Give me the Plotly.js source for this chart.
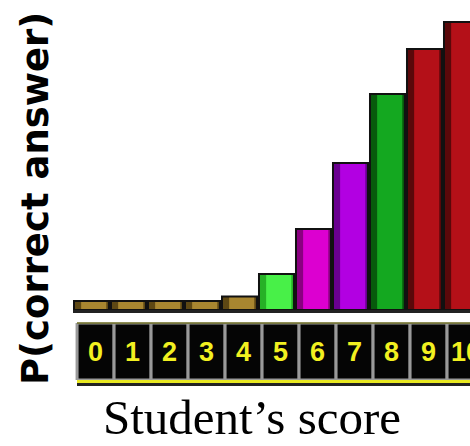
<!DOCTYPE html>
<html>
<head>
<meta charset="utf-8">
<script src="https://cdn.plot.ly/plotly-3.0.1.min.js"></script>
<style>
html,body{margin:0;padding:0;background:#fff;}
#chart{width:470px;height:446px;}
</style>
</head>
<body>
<div id="chart"></div>
<script>
// Data
const scores = ["0","1","2","3","4","5","6","7","8","9","10"];
const pCorrect = [0.03, 0.03, 0.03, 0.03, 0.045, 0.12, 0.27, 0.49, 0.72, 0.87, 0.96];
const edgeColors = ["#5e4814","#5e4814","#5e4814","#5e4814","#5e4814",
                    "#26b026","#8a0080","#6a0090","#075a0c","#5a080a","#5a080a"];
const faceColors = ["#a88630","#a88630","#a88630","#a88630","#a88630",
                    "#48f048","#dc00d0","#b200e2","#14a820","#b41018","#b41018"];
const stripHeights = scores.map(() => 1);
const xTitle = "Student\u2019s score";
const yTitle = "P(correct answer)";

const W = 470, H = 446;
const L = 73, T = 10, B = 60;
const plotH = H - T - B;
const yp = px => (H - B - px) / plotH;
const xp = px => (px - L) / (W - L);
const BW = 0.946;

const traces = [
  { // shaded body (dark edges)
    type: "bar", x: scores, y: pCorrect, xaxis: "x", yaxis: "y", width: BW,
    marker: {color: edgeColors, line: {width: 0}}, hoverinfo: "skip", showlegend: false
  },
  { // bright face
    type: "bar", x: scores, y: pCorrect, xaxis: "x", yaxis: "y", width: 0.68, offset: -0.28,
    marker: {color: faceColors, line: {width: 0}}, hoverinfo: "skip", showlegend: false
  },
  { // outline
    type: "bar", x: scores, y: pCorrect, xaxis: "x", yaxis: "y", width: BW,
    marker: {color: "rgba(0,0,0,0)", line: {color: "#111", width: 2}},
    hoverinfo: "x+y", showlegend: false
  },
  { // score strip boxes
    type: "bar", x: scores, y: stripHeights, xaxis: "x2", yaxis: "y2", width: 1,
    marker: {color: "#050505", line: {color: "#9a9a9a", width: 3}},
    hoverinfo: "skip", showlegend: false
  }
];

const stripLabels = scores.map(s => ({
  text: s, xref: "x2", yref: "y2", x: s, y: 0.5,
  xanchor: "center", yanchor: "middle", showarrow: false,
  font: {family: "Liberation Sans, Arial", size: 27, weight: "bold", color: "#f2f020"}
}));

const layout = {
  width: W, height: H,
  margin: {l: L, r: 0, t: T, b: B, pad: 0},
  paper_bgcolor: "#fff", plot_bgcolor: "rgba(0,0,0,0)",
  barmode: "overlay",
  xaxis: {type: "category", range: [-0.5, 10.23], domain: [0, 1],
          showticklabels: false, ticks: "", showgrid: false, zeroline: false,
          showline: true, linecolor: "#222", linewidth: 3, anchor: "y"},
  yaxis: {range: [0, 1], domain: [yp(310), 1], visible: false, anchor: "x"},
  xaxis2: {type: "category", range: [-0.61, 10.12], domain: [0, 1], anchor: "y2",
           showticklabels: false, ticks: "", showgrid: false, zeroline: false, showline: false},
  yaxis2: {range: [0, 1], domain: [yp(380), yp(323)], visible: false, anchor: "x2"},
  shapes: [
    {type: "line", xref: "paper", yref: "paper", x0: xp(77), x1: 1, y0: yp(381.5), y1: yp(381.5),
     line: {color: "#e8e820", width: 3}},
    {type: "line", xref: "paper", yref: "paper", x0: xp(77), x1: 1, y0: yp(384.5), y1: yp(384.5),
     line: {color: "#222", width: 3}},
    {type: "line", xref: "paper", yref: "paper", x0: xp(77), x1: 1, y0: yp(323), y1: yp(323),
     line: {color: "#6a6a20", width: 1.5}}
  ],
  annotations: [
    {text: yTitle, xref: "paper", yref: "paper", x: xp(35), y: yp(199),
     xanchor: "center", yanchor: "middle", textangle: -90, showarrow: false,
     font: {family: "DejaVu Sans", size: 37, weight: "bold", color: "#000"}},
    {text: xTitle, xref: "paper", yref: "paper", x: xp(252), y: yp(417),
     xanchor: "center", yanchor: "middle", showarrow: false,
     font: {family: "Liberation Serif, Times New Roman", size: 49, color: "#000"}}
  ].concat(stripLabels)
};

Plotly.newPlot("chart", traces, layout, {displayModeBar: false, staticPlot: true});
</script>
</body>
</html>
